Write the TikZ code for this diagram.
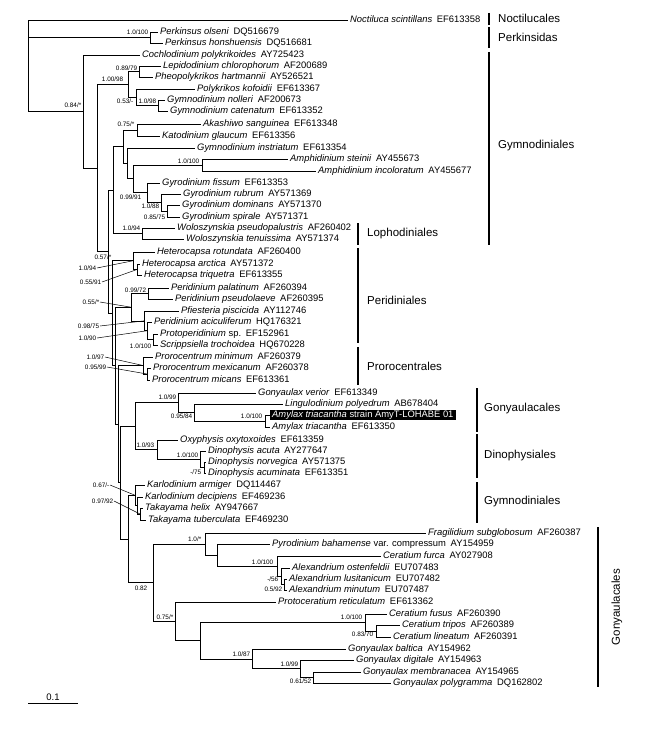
\documentclass[tikz,border=0pt]{standalone}
\usepackage{fontspec}
\setmainfont{Liberation Sans}
\newcommand{\tipat}[6]{\node[tip] (#1) at ({#4-2.5},#3) {#5\hspace{0.5em}#6}; \draw[br] (#1.west) -| (#2);}
\begin{document}
\begin{tikzpicture}[x=1pt,y=-1pt,
  br/.style={line width=0.8pt},
  tip/.style={anchor=west, inner xsep=2.5pt, inner ysep=0.6pt, font=\fontsize{9.4}{10}\selectfont, text height=6.8pt, text depth=1.2pt},
  bs/.style={font=\fontsize{6.4}{7}\selectfont, inner sep=0.5pt, anchor=east},
  grp/.style={font=\fontsize{11.5}{13}\selectfont, anchor=west, inner sep=0pt},
  bar/.style={line width=1.8pt},
  lead/.style={line width=0.5pt}]
\useasboundingbox (0,0) rectangle (667,730);
% internal nodes
\coordinate (nroot) at (28,65.75);
\coordinate (nperk) at (150,37.5);
\coordinate (ncoch) at (83,111.5);
\coordinate (nA) at (97,168);
\coordinate (nB) at (128,84.4);
\coordinate (nLP) at (139,71.5);
\coordinate (nPG) at (136,97.25);
\coordinate (nGym) at (158,105.5);
\coordinate (nC) at (108,251.6);
\coordinate (nDW) at (113,190);
\coordinate (nD) at (123,146.7);
\coordinate (nAk) at (137,130);
\coordinate (nF) at (127,163.4);
\coordinate (n0991) at (133,178.9);
\coordinate (nAmph) at (202,165);
\coordinate (nGyro) at (147,192.75);
\coordinate (nG2) at (161,202.5);
\coordinate (nG3) at (167,211);
\coordinate (nWolo) at (142,233.5);
\coordinate (nH1) at (112,313.2);
\coordinate (nHet) at (133,260.75);
\coordinate (nHet2) at (137,269.5);
\coordinate (nH2) at (115,365.6);
\coordinate (nPeri) at (131,307.2);
\coordinate (nPer1) at (148,293.5);
\coordinate (nPf) at (144,320.9);
\coordinate (nAc) at (147,330.75);
\coordinate (nPS) at (153,339.5);
\coordinate (nH3) at (118,424);
\coordinate (nPro) at (143,365.5);
\coordinate (nPro2) at (147,374);
\coordinate (nH4) at (120,482.6);
\coordinate (nGD) at (135,426.2);
\coordinate (nGV) at (178,402.75);
\coordinate (nLA) at (194,412.5);
\coordinate (nAmy) at (265,421);
\coordinate (nDino) at (157,449.6);
\coordinate (nDA) at (200,459.25);
\coordinate (nDN) at (204,467.5);
\coordinate (nP) at (128,539);
\coordinate (nK) at (135,495.25);
\coordinate (nX) at (137,505.5);
\coordinate (nT) at (140,514);
\coordinate (nBig) at (153,582.7);
\coordinate (nFr) at (205,544);
\coordinate (nPy) at (217,555.1);
\coordinate (nCf) at (277,566.1);
\coordinate (nAl) at (281,576.25);
\coordinate (nAl2) at (284,584.5);
\coordinate (nPc) at (175,621.35);
\coordinate (nCG) at (200,640.7);
\coordinate (nCe) at (365,622.5);
\coordinate (nCe2) at (376,631);
\coordinate (nGo) at (252,658.9);
\coordinate (nGo2) at (300,668.75);
\coordinate (nGo3) at (313,677.5);
\foreach \c/\p in {nperk/nroot, ncoch/nroot, nA/ncoch, nB/nA, nC/nA, nLP/nB, nPG/nB, nGym/nPG,
  nDW/nC, nH1/nC, nD/nDW, nWolo/nDW, nAk/nD, nF/nD, n0991/nF, nAmph/n0991, nGyro/n0991, nG2/nGyro, nG3/nG2,
  nHet/nH1, nH2/nH1, nHet2/nHet, nPeri/nH2, nH3/nH2, nPer1/nPeri, nPf/nPeri, nAc/nPf, nPS/nAc,
  nPro/nH3, nH4/nH3, nPro2/nPro, nGD/nH4, nP/nH4, nGV/nGD, nDino/nGD, nLA/nGV, nAmy/nLA, nDA/nDino, nDN/nDA,
  nK/nP, nBig/nP, nX/nK, nT/nX, nFr/nBig, nPc/nBig, nPy/nFr, nCf/nPy, nAl/nCf, nAl2/nAl,
  nCG/nPc, nCe/nCG, nGo/nCG, nCe2/nCe, nGo2/nGo, nGo3/nGo2}
  {\draw[br] (\c) -| (\p);}
% tips
\tipat{t1}{nroot}{20}{350}{\textit{Noctiluca scintillans}}{EF613358}
\tipat{t2}{nperk}{32}{160}{\textit{Perkinsus olseni}}{DQ516679}
\tipat{t3}{nperk}{43}{165}{\textit{Perkinsus honshuensis}}{DQ516681}
\tipat{t4}{ncoch}{55}{142}{\textit{Cochlodinium polykrikoides}}{AY725423}
\tipat{t5}{nLP}{66}{163}{\textit{Lepidodinium chlorophorum}}{AF200689}
\tipat{t6}{nLP}{77}{155}{\textit{Pheopolykrikos hartmannii}}{AY526521}
\tipat{t7}{nPG}{89}{197}{\textit{Polykrikos kofoidii}}{EF613367}
\tipat{t8}{nGym}{100}{167}{\textit{Gymnodinium nolleri}}{AF200673}
\tipat{t9}{nGym}{111}{170}{\textit{Gymnodinium catenatum}}{EF613352}
\tipat{t10}{nAk}{124}{203}{\textit{Akashiwo sanguinea}}{EF613348}
\tipat{t11}{nAk}{136}{162}{\textit{Katodinium glaucum}}{EF613356}
\tipat{t12}{nF}{148}{197}{\textit{Gymnodinium instriatum}}{EF613354}
\tipat{t13}{nAmph}{159}{290}{\textit{Amphidinium steinii}}{AY455673}
\tipat{t14}{nAmph}{171}{318}{\textit{Amphidinium incoloratum}}{AY455677}
\tipat{t15}{nGyro}{183}{162}{\textit{Gyrodinium fissum}}{EF613353}
\tipat{t16}{nG2}{194}{183}{\textit{Gyrodinium rubrum}}{AY571369}
\tipat{t17}{nG3}{205}{182}{\textit{Gyrodinium dominans}}{AY571370}
\tipat{t18}{nG3}{217}{182}{\textit{Gyrodinium spirale}}{AY571371}
\tipat{t19}{nWolo}{228}{177}{\textit{Woloszynskia pseudopalustris}}{AF260402}
\tipat{t20}{nWolo}{239}{186}{\textit{Woloszynskia tenuissima}}{AY571374}
\tipat{t21}{nHet}{252}{157}{\textit{Heterocapsa rotundata}}{AF260400}
\tipat{t22}{nHet2}{264}{142}{\textit{Heterocapsa arctica}}{AY571372}
\tipat{t23}{nHet2}{275}{144}{\textit{Heterocapsa triquetra}}{EF613355}
\tipat{t24}{nPer1}{288}{171}{\textit{Peridinium palatinum}}{AF260394}
\tipat{t25}{nPer1}{299}{175}{\textit{Peridinium pseudolaeve}}{AF260395}
\tipat{t26}{nPf}{311}{181}{\textit{Pfiesteria piscicida}}{AY112746}
\tipat{t27}{nAc}{322}{154}{\textit{Peridinium aciculiferum}}{HQ176321}
\tipat{t28}{nPS}{334}{160}{\textit{Protoperidinium} sp.}{EF152961}
\tipat{t29}{nPS}{345}{160}{\textit{Scrippsiella trochoidea}}{HQ670228}
\tipat{t30}{nPro}{357}{155}{\textit{Prorocentrum minimum}}{AF260379}
\tipat{t31}{nPro2}{368}{153}{\textit{Prorocentrum mexicanum}}{AF260378}
\tipat{t32}{nPro2}{380}{152}{\textit{Prorocentrum micans}}{EF613361}
\tipat{t33}{nGV}{393}{258}{\textit{Gonyaulax verior}}{EF613349}
\tipat{t34}{nLA}{404}{285}{\textit{Lingulodinium polyedrum}}{AB678404}
\node[tip, fill=black, text=white] (t35) at (269.5,415) {\textit{Amylax triacantha} strain AmyT-LOHABE 01};
\draw[br] (t35.west) -| (nAmy);
\tipat{t36}{nAmy}{427}{272}{\textit{Amylax triacantha}}{EF613350}
\tipat{t37}{nDino}{440}{180}{\textit{Oxyphysis oxytoxoides}}{EF613359}
\tipat{t38}{nDA}{451}{208}{\textit{Dinophysis acuta}}{AY277647}
\tipat{t39}{nDN}{462}{208}{\textit{Dinophysis norvegica}}{AY571375}
\tipat{t40}{nDN}{473}{208}{\textit{Dinophysis acuminata}}{EF613351}
\tipat{t41}{nK}{485}{147}{\textit{Karlodinium armiger}}{DQ114467}
\tipat{t42}{nX}{497}{145}{\textit{Karlodinium decipiens}}{EF469236}
\tipat{t43}{nT}{508}{145}{\textit{Takayama helix}}{AY947667}
\tipat{t44}{nT}{520}{148}{\textit{Takayama tuberculata}}{EF469230}
\tipat{t45}{nFr}{533}{428}{\textit{Fragilidium subglobosum}}{AF260387}
\tipat{t46}{nPy}{544}{272}{\textit{Pyrodinium bahamense} var. compressum}{AY154959}
\tipat{t47}{nCf}{556}{383}{\textit{Ceratium furca}}{AY027908}
\tipat{t48}{nAl}{568}{292}{\textit{Alexandrium ostenfeldii}}{EU707483}
\tipat{t49}{nAl2}{579}{289}{\textit{Alexandrium lusitanicum}}{EU707482}
\tipat{t50}{nAl2}{590}{289}{\textit{Alexandrium minutum}}{EU707487}
\tipat{t51}{nPc}{602}{278}{\textit{Protoceratium reticulatum}}{EF613362}
\tipat{t52}{nCe}{614}{389}{\textit{Ceratium fusus}}{AF260390}
\tipat{t53}{nCe2}{625}{402}{\textit{Ceratium tripos}}{AF260389}
\tipat{t54}{nCe2}{637}{393}{\textit{Ceratium lineatum}}{AF260391}
\tipat{t55}{nGo}{649}{348}{\textit{Gonyaulax baltica}}{AY154962}
\tipat{t56}{nGo2}{660}{356}{\textit{Gonyaulax digitale}}{AY154963}
\tipat{t57}{nGo3}{672}{363}{\textit{Gonyaulax membranacea}}{AY154965}
\tipat{t58}{nGo3}{683}{393}{\textit{Gonyaulax polygramma}}{DQ162802}
% support values
\node[bs] (s1) at (149,32) {1.0/100};
\node[bs] (s2) at (82,105) {0.84/*};
\node[bs] (s3) at (138,68) {0.89/79};
\node[bs] (s4) at (124,79) {1.00/98};
\node[bs] (s5) at (134,101) {0.53/-};
\node[bs] (s6) at (157,101) {1.0/98};
\node[bs] (s7) at (135,124) {0.75/*};
\node[bs] (s8) at (200,161) {1.0/100};
\node[bs] (s9) at (142,197) {0.99/91};
\node[bs] (s10) at (160,206) {1.0/88};
\node[bs] (s11) at (166,217) {0.85/75};
\node[bs] (s12) at (141,228) {1.0/94};
\node[bs] (s13) at (112,257) {0.57/*};
\node[bs] (s14) at (97,268) {1.0/94};
\node[bs] (s15) at (102,282) {0.55/91};
\node[bs] (s16) at (147,290) {0.99/72};
\node[bs] (s17) at (100,302) {0.55/*};
\node[bs] (s18) at (100,326) {0.98/75};
\node[bs] (s19) at (97,338) {1.0/90};
\node[bs] (s20) at (152,346) {1.0/100};
\node[bs] (s21) at (105,357) {1.0/97};
\node[bs] (s22) at (107,367) {0.95/99};
\node[bs] (s23) at (177,397) {1.0/99};
\node[bs] (s24) at (193,416) {0.95/84};
\node[bs] (s25) at (263,416) {1.0/100};
\node[bs] (s26) at (155,445) {1.0/93};
\node[bs] (s27) at (199,455) {1.0/100};
\node[bs] (s28) at (202,472) {-/75};
\node[bs] (s29) at (110,485) {0.67/-};
\node[bs] (s30) at (114,501) {0.97/92};
\node[bs] (s31) at (202,539) {1.0/*};
\node[bs] (s32) at (274,562) {1.0/100};
\node[bs] (s33) at (279,579) {-/56};
\node[bs] (s34) at (283,589) {0.5/92};
\node[bs] (s35) at (148,588) {0.82};
\node[bs] (s36) at (174,617) {0.75/*};
\node[bs] (s37) at (363,617) {1.0/100};
\node[bs] (s38) at (374,634) {0.83/70};
\node[bs] (s39) at (251,654) {1.0/87};
\node[bs] (s40) at (299,664) {1.0/99};
\node[bs] (s41) at (312,681) {0.61/52};
\draw[lead] (s14.east) -- (nHet);
\draw[lead] (s15.east) -- (nHet2);
\draw[lead] (s17.east) -- (nPeri);
\draw[lead] (s18.east) -- (nPf);
\draw[lead] (s19.east) -- (nAc);
\draw[lead] (s21.east) -- (nPro);
\draw[lead] (s22.east) -- (nPro2);
\draw[lead] (s29.east) -- (nK);
\draw[lead] (s30.east) -- (nT);
% groups
\draw[bar] (489,13) -- (489,25);   \node[grp] (g1) at (498,18) {Noctilucales};
\draw[bar] (489,27) -- (489,48);   \node[grp] (g2) at (498,37) {Perkinsidas};
\draw[bar] (489,52) -- (489,245);  \node[grp] (g3) at (498,146) {Gymnodiniales};
\draw[bar] (358,223) -- (358,245); \node[grp] (g4) at (367,234) {Lophodiniales};
\draw[bar] (358,248) -- (358,343); \node[grp] (g5) at (367,300) {Peridiniales};
\draw[bar] (358,347) -- (358,385); \node[grp] (g6) at (367,366) {Prorocentrales};
\draw[bar] (477,388) -- (477,432); \node[grp] (g7) at (484,409) {Gonyaulacales};
\draw[bar] (477,434) -- (477,478); \node[grp] (g8) at (484,456) {Dinophysiales};
\draw[bar] (477,482) -- (477,523); \node[grp] (g9) at (484,502) {Gymnodiniales};
\draw[bar] (598,527) -- (598,687); \node[grp, rotate=90, anchor=center] (g10) at (617,607) {Gonyaulacales};
% scale bar
\draw[br] (28,703.5) -- (78,703.5);
\node[font=\fontsize{9.5}{10}\selectfont, anchor=south, inner sep=1pt] (sc) at (53,702) {0.1};
\end{tikzpicture}
\end{document}
